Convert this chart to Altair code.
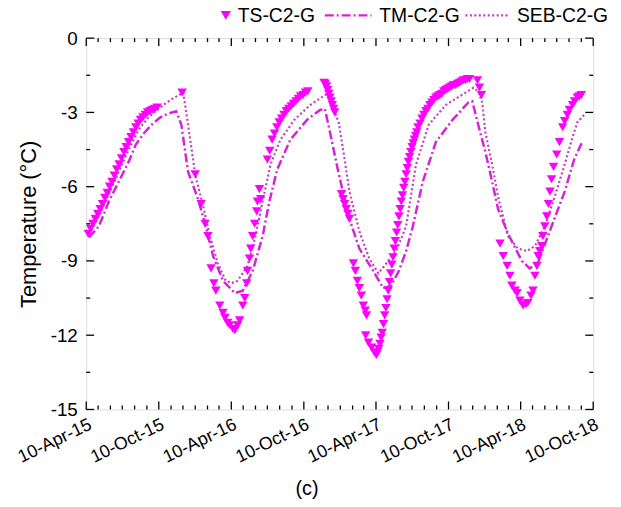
import altair as alt
import pandas as pd

# ---------------- data (days after 10-Apr-2015, temperature in °C) ----------------
ts_days = [5, 11, 17, 23, 29, 35, 41, 47, 53, 59, 65, 71, 77, 83, 89, 95, 101, 107, 113, 119,
           125, 131, 137, 143, 149, 155, 161, 167, 173, 179,
           242,
           275, 290, 300, 307, 315, 322, 327, 337, 345, 350, 357, 362, 370, 375,
           382, 387, 395, 400, 405, 407, 412, 415, 420, 425, 430, 432, 437, 440,
           457, 463, 469, 475, 481, 487, 493, 499, 505, 511, 517, 523, 529, 535, 541, 547, 553, 559,
           600, 603, 606, 609, 612, 615, 618, 621, 624, 627,
           644, 648, 652, 656, 660, 664,
           674, 679, 684, 689, 694, 699, 704, 707,
           705, 712, 720, 727,
           732, 735, 738, 741, 744, 747, 750, 753, 756, 759, 762, 765, 768, 771, 774, 777, 780, 783,
           786, 789, 792, 795, 798, 801, 804, 807, 810, 813, 816, 819, 822, 825, 828, 831, 834, 837,
           842, 847, 852, 857, 862, 867, 872, 877, 882, 887, 892, 897, 902, 907, 912, 917, 922, 927,
           932, 937, 942, 947, 952, 957, 962, 967,
           987, 992, 997,
           1044, 1052, 1062, 1069, 1074, 1082, 1087, 1094, 1102, 1109, 1114, 1122, 1127, 1132, 1137,
           1140, 1144, 1149, 1152, 1157, 1162, 1166, 1170, 1174, 1179, 1187, 1194, 1202, 1207, 1214,
           1219, 1227, 1232, 1239, 1244, 1249]
ts_vals = [-7.9, -7.7, -7.5, -7.3, -7.1, -6.9, -6.7, -6.45, -6.25, -6.0, -5.8, -5.55, -5.3, -5.1,
           -4.85, -4.6, -4.4, -4.2, -4.0, -3.8, -3.6, -3.45, -3.3, -3.2, -3.1, -3.0, -2.95, -2.9,
           -2.85, -2.8,
           -2.2,
           -5.5, -6.7, -7.5, -8.0, -9.3, -9.9, -10.2, -10.8, -11.1, -11.3, -11.5, -11.6, -11.75, -11.8,
           -11.6, -11.4, -10.8, -10.5, -9.9, -9.4, -8.9, -8.5, -8.0, -7.5, -7.0, -6.6, -6.1, -6.5,
           -4.9, -4.55, -4.1, -3.85, -3.6, -3.4, -3.25, -3.1, -2.95, -2.85, -2.75, -2.65, -2.55,
           -2.45, -2.35, -2.3, -2.2, -2.15,
           -1.8, -1.85, -1.95, -2.1, -2.25, -2.4, -2.55, -2.7, -2.85, -3.0,
           -6.3, -6.5, -6.7, -6.9, -7.1, -7.3,
           -9.1, -9.4, -9.8, -10.1, -10.4, -10.8, -11.0, -11.2,
           -12.0, -12.3, -12.5, -12.7,
           -12.8, -12.7, -12.55, -12.35, -12.1, -11.9, -11.55, -11.2, -10.9, -10.55, -10.2, -9.85,
           -9.5, -9.15, -8.85, -8.5, -8.2, -7.85, -7.55, -7.2, -6.9, -6.6, -6.35, -6.05, -5.8, -5.5,
           -5.25, -5.0, -4.8, -4.6, -4.4, -4.25, -4.1, -3.95, -3.8, -3.6,
           -3.45, -3.25, -3.1, -2.95, -2.85, -2.7, -2.6, -2.5, -2.4, -2.35, -2.3, -2.25, -2.15, -2.1,
           -2.05, -2.0, -1.95, -1.9, -1.9, -1.85, -1.8, -1.75, -1.7, -1.7, -1.65, -1.65,
           -1.7, -2.0, -2.3,
           -8.3, -8.8, -9.2, -9.6, -10.0, -10.2, -10.3, -10.6, -10.8, -10.75, -10.7, -10.4, -10.2,
           -9.6, -9.2, -8.8, -8.6, -8.4, -8.0, -7.6, -7.2, -6.7, -6.2, -5.7, -5.2, -4.7, -4.2, -3.6,
           -3.35, -3.1, -2.9, -2.7, -2.55, -2.4, -2.35, -2.3]

tm_days = [7, 32, 57, 82, 107, 125, 145, 165, 187, 207, 227, 240, 257, 282, 300, 320, 345, 375,
           395, 420, 445, 462, 482, 515, 557, 590, 602, 615, 632, 650, 664, 689, 724, 749, 769,
           789, 807, 824, 849, 882, 924, 964, 974, 989, 1007, 1024, 1039, 1064, 1099, 1119, 1139,
           1174, 1207, 1231, 1251]
tm_vals = [-8.05, -7.6, -6.6, -5.8, -5.0, -4.3, -3.85, -3.5, -3.2, -3.05, -2.95, -3.5, -5.4,
           -6.5, -7.5, -8.8, -9.8, -10.3, -10.2, -9.4, -8.0, -6.6, -5.3, -4.1, -3.3, -2.9, -2.85,
           -3.8, -5.1, -6.4, -7.3, -8.5, -9.4, -10.1, -10.0, -9.4, -8.6, -7.6, -5.8, -4.2, -3.3,
           -2.6, -2.55, -3.5, -4.6, -5.8, -6.9, -7.9, -9.0, -9.3, -9.1, -7.6, -6.2, -4.9, -4.2]

seb_days = [7, 32, 57, 82, 107, 132, 157, 182, 212, 245, 275, 295, 312, 332, 352, 367, 382,
            407, 427, 445, 465, 490, 525, 565, 607, 612, 627, 637, 650, 664, 689, 714, 737, 762,
            782, 807, 832, 864, 907, 957, 977, 989, 999, 1007, 1024, 1039, 1064, 1089, 1112,
            1132, 1157, 1182, 1207, 1227, 1239, 1256]
seb_vals = [-7.9, -7.2, -6.3, -5.4, -4.5, -3.7, -3.2, -2.85, -2.5, -2.2, -5.5, -6.8, -8.0,
            -9.1, -9.8, -9.9, -9.8, -9.2, -8.0, -6.6, -5.1, -4.1, -3.3, -2.7, -2.25, -2.2, -3.0,
            -3.4, -4.7, -6.2, -7.8, -8.9, -9.5, -9.0, -8.6, -7.6, -5.1, -3.5, -2.7, -2.2, -2.0,
            -2.15, -2.6, -3.8, -5.1, -6.4, -8.0, -8.5, -8.6, -8.4, -7.6, -6.4, -5.1, -4.0, -3.4,
            -3.1]

x_tick_labels = ["2015-04-10", "2015-10-10", "2016-04-10", "2016-10-10",
                 "2017-04-10", "2017-10-10", "2018-04-10", "2018-10-10"]
y_tick_values = [-15, -12, -9, -6, -3, 0]
y_minor_values = [-13.5, -10.5, -7.5, -4.5, -1.5]

series_names = ["TS-C2-G", "TM-C2-G", "SEB-C2-G"]

# ---------------- helpers ----------------
base = pd.Timestamp("2015-04-10")


def days_to_ms(days):
    return [int((base + pd.Timedelta(days=d)).value // 10**6) for d in days]


def date_to_ms(s):
    return int(pd.Timestamp(s).value // 10**6)


ts_df = pd.DataFrame({"date": days_to_ms(ts_days), "temp": ts_vals})
tm_df = pd.DataFrame({"date": days_to_ms(tm_days), "temp": tm_vals})
seb_df = pd.DataFrame({"date": days_to_ms(seb_days), "temp": seb_vals})

major_ms = [date_to_ms(s) for s in x_tick_labels]
minor_dates = pd.date_range("2015-04-01", "2018-10-01", freq="MS") + pd.Timedelta(days=9)
minor_ms = [int(d.value // 10**6) for d in minor_dates if int(d.value // 10**6) not in major_ms]

W, H = 512, 375
MAG = "#ff00ff"
TM_COL = "#d524d5"
SEB_COL = "#c03cc0"
FONT = "Liberation Sans"

xscale = alt.Scale(type="utc", domain=[major_ms[0], major_ms[-1]], nice=False)
yscale = alt.Scale(domain=[-15, 0], nice=False, zero=False)

x_axis = alt.Axis(values=major_ms, labelExpr="utcFormat(datum.value, '%d-%b-%y')",
                  labelAngle=334, labelAlign="right", labelBaseline="top", labelPadding=6,
                  labelFontSize=18, labelColor="black", ticks=False, domain=False, grid=False,
                  title=None, labelOverlap=False, labelFont=FONT)
y_axis = alt.Axis(values=y_tick_values, labelExpr="toString(datum.value)", labelFontSize=19,
                  labelColor="black", labelPadding=9, ticks=False, domain=False, grid=False,
                  title="Temperature (°C)", titleFontSize=22, titleFontWeight="normal",
                  titleColor="black", titlePadding=10, titleFont=FONT, labelFont=FONT)

X = alt.X("date:T", scale=xscale, axis=x_axis)
Y = alt.Y("temp:Q", scale=yscale, axis=y_axis)

tm_line = alt.Chart(tm_df).mark_line(color=TM_COL, strokeWidth=2.5,
                                     strokeDash=[9, 3, 2, 3]).encode(x=X, y=Y)
seb_line = alt.Chart(seb_df).mark_line(color=SEB_COL, strokeWidth=2.2,
                                       strokeDash=[2, 2.5]).encode(x=X, y=Y)
ts_pts = alt.Chart(ts_df).mark_point(shape="triangle-down", filled=True, size=90,
                                     color=MAG, opacity=1).encode(x=X, y=Y)

# inward ticks
xmaj = pd.DataFrame({"date": major_ms})
xmin = pd.DataFrame({"date": minor_ms})
ymaj = pd.DataFrame({"temp": y_tick_values})
ymin = pd.DataFrame({"temp": y_minor_values})
tk = dict(color="black", strokeWidth=1.3)
ticks = [
    alt.Chart(xmaj).mark_rule(**tk).encode(x=X, y=alt.value(H), y2=alt.value(H - 8)),
    alt.Chart(xmaj).mark_rule(**tk).encode(x=X, y=alt.value(0), y2=alt.value(8)),
    alt.Chart(xmin).mark_rule(**tk).encode(x=X, y=alt.value(H), y2=alt.value(H - 4)),
    alt.Chart(xmin).mark_rule(**tk).encode(x=X, y=alt.value(0), y2=alt.value(4)),
    alt.Chart(ymaj).mark_rule(**tk).encode(y=Y, x=alt.value(0), x2=alt.value(8)),
    alt.Chart(ymaj).mark_rule(**tk).encode(y=Y, x=alt.value(W), x2=alt.value(W - 8)),
    alt.Chart(ymin).mark_rule(**tk).encode(y=Y, x=alt.value(0), x2=alt.value(4)),
    alt.Chart(ymin).mark_rule(**tk).encode(y=Y, x=alt.value(W), x2=alt.value(W - 4)),
]

# legend (drawn above the plot)
one = pd.DataFrame({"k": [0]})
LY = -23
LF = 19.5
legend = [
    alt.Chart(one).mark_point(shape="triangle-down", filled=True, size=110, color=MAG,
                              opacity=1).encode(x=alt.value(141), y=alt.value(LY)),
    alt.Chart(one).mark_text(align="left", baseline="middle", fontSize=LF, font=FONT,
                             color="black").encode(x=alt.value(153), y=alt.value(LY + 1),
                                                   text=alt.value(series_names[0])),
    alt.Chart(one).mark_rule(color=TM_COL, strokeWidth=2.5, strokeDash=[9, 3, 2, 3]).encode(
        x=alt.value(241), x2=alt.value(288), y=alt.value(LY)),
    alt.Chart(one).mark_text(align="left", baseline="middle", fontSize=LF, font=FONT,
                             color="black").encode(x=alt.value(296), y=alt.value(LY + 1),
                                                   text=alt.value(series_names[1])),
    alt.Chart(one).mark_rule(color=SEB_COL, strokeWidth=2.2, strokeDash=[2, 2.5]).encode(
        x=alt.value(383), x2=alt.value(428), y=alt.value(LY)),
    alt.Chart(one).mark_text(align="left", baseline="middle", fontSize=LF, font=FONT,
                             color="black").encode(x=alt.value(435), y=alt.value(LY + 1),
                                                   text=alt.value(series_names[2])),
    alt.Chart(one).mark_text(align="center", baseline="middle", fontSize=20, font=FONT,
                             color="black").encode(x=alt.value(223), y=alt.value(455),
                                                   text=alt.value("(c)")),
]

chart = alt.layer(tm_line, seb_line, ts_pts, *ticks, *legend).properties(
    width=W, height=H,
    autosize=alt.AutoSizeParams(type="none"),
    padding={"left": 79, "top": 28, "right": 20, "bottom": 90},
).configure_view(stroke="black", strokeWidth=1.5).configure(font=FONT)

chart.save("out.html", embed_options={"renderer": "svg", "actions": False})
